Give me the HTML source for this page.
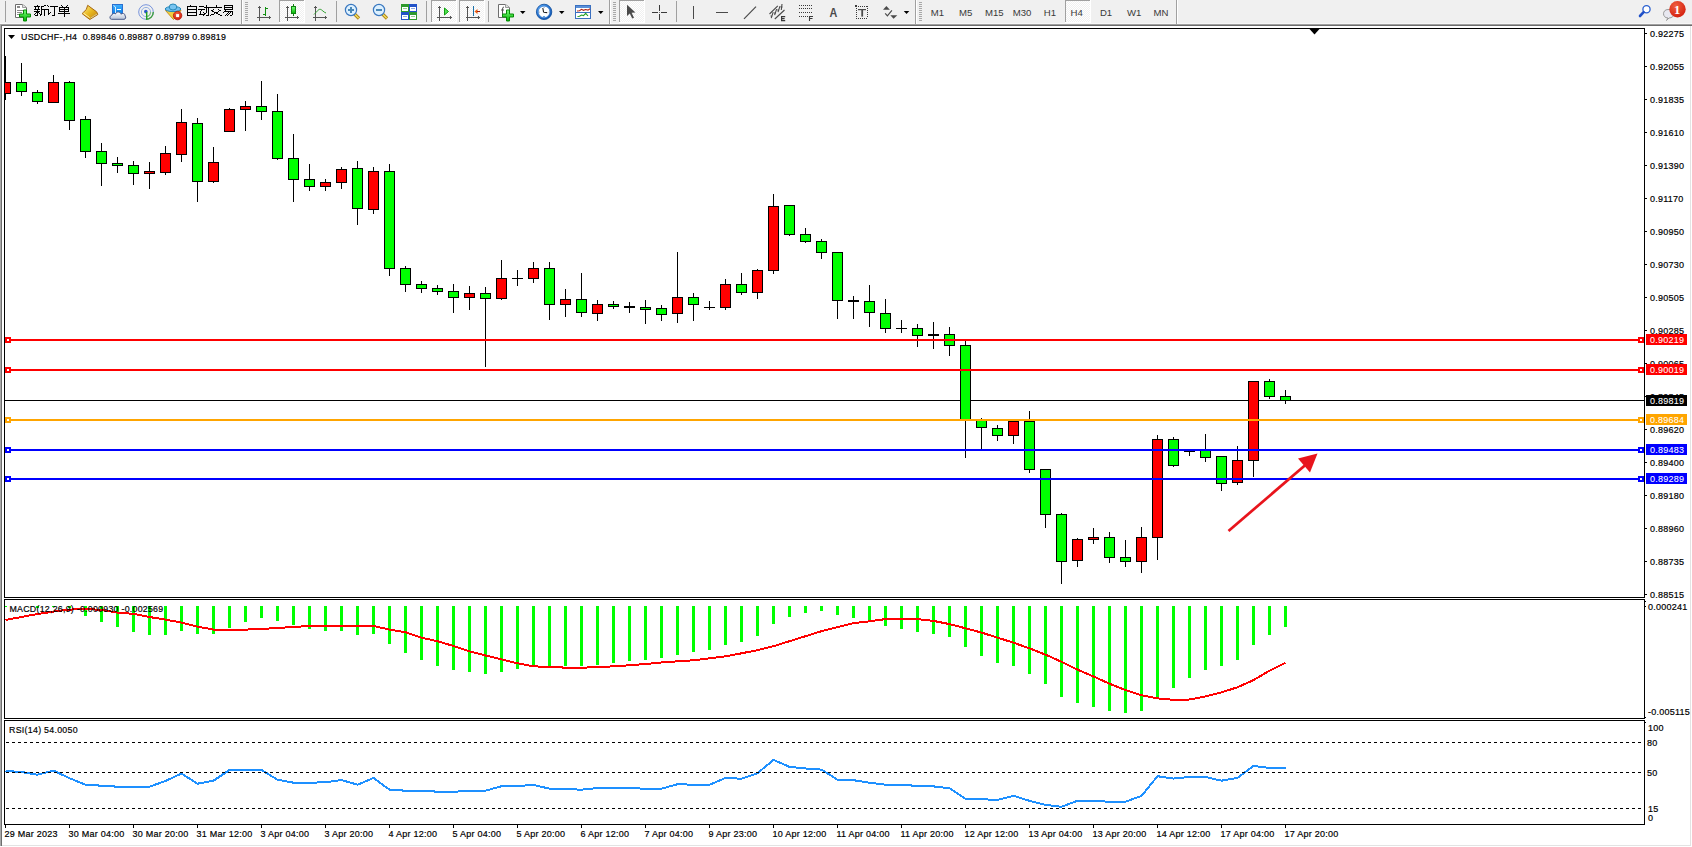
<!DOCTYPE html>
<html><head><meta charset="utf-8"><style>
html,body{margin:0;padding:0;width:1692px;height:847px;overflow:hidden;background:#fff;font-family:"Liberation Sans",sans-serif}
</style></head><body>
<svg width="1692" height="847" viewBox="0 0 1692 847" style="position:absolute;left:0;top:0;display:block">
<rect x="0" y="0" width="1692" height="847" fill="#FFFFFF"/>
<rect x="0" y="0" width="1692" height="24" fill="#F0F0F0"/>
<rect x="0" y="23" width="1692" height="1" fill="#F7F7F7"/>
<rect x="0" y="24" width="1692" height="1" fill="#A0A0A0"/>
<rect x="0" y="25" width="1692" height="1" fill="#6D6D6D"/>
<rect x="0" y="24" width="1" height="822" fill="#A8A8A8"/><rect x="1" y="25" width="1" height="821" fill="#6E6E6E"/>
<rect x="1690" y="26" width="1" height="820" fill="#E3E3E3"/>
<rect x="2" y="845" width="1689" height="1" fill="#E3E3E3"/>
<rect x="5" y="1" width="1" height="21" fill="#A0A0A0"/>
<rect x="336" y="1" width="1" height="21" fill="#A0A0A0"/>
<rect x="426" y="1" width="1" height="21" fill="#A0A0A0"/>
<rect x="488" y="1" width="1" height="21" fill="#A0A0A0"/>
<rect x="676" y="1" width="1" height="21" fill="#A0A0A0"/>
<rect x="241" y="0" width="1" height="24" fill="#A0A0A0"/><rect x="242" y="0" width="1" height="24" fill="#FFFFFF"/>
<rect x="609" y="0" width="1" height="24" fill="#A0A0A0"/><rect x="610" y="0" width="1" height="24" fill="#FFFFFF"/>
<rect x="915" y="0" width="1" height="24" fill="#A0A0A0"/><rect x="916" y="0" width="1" height="24" fill="#FFFFFF"/>
<rect x="1176" y="0" width="1" height="24" fill="#A0A0A0"/><rect x="1177" y="0" width="1" height="24" fill="#FFFFFF"/>
<rect x="245" y="2" width="3" height="1" fill="#A8A8A8"/>
<rect x="245" y="4" width="3" height="1" fill="#A8A8A8"/>
<rect x="245" y="6" width="3" height="1" fill="#A8A8A8"/>
<rect x="245" y="8" width="3" height="1" fill="#A8A8A8"/>
<rect x="245" y="10" width="3" height="1" fill="#A8A8A8"/>
<rect x="245" y="12" width="3" height="1" fill="#A8A8A8"/>
<rect x="245" y="14" width="3" height="1" fill="#A8A8A8"/>
<rect x="245" y="16" width="3" height="1" fill="#A8A8A8"/>
<rect x="245" y="18" width="3" height="1" fill="#A8A8A8"/>
<rect x="245" y="20" width="3" height="1" fill="#A8A8A8"/>
<rect x="613" y="2" width="3" height="1" fill="#A8A8A8"/>
<rect x="613" y="4" width="3" height="1" fill="#A8A8A8"/>
<rect x="613" y="6" width="3" height="1" fill="#A8A8A8"/>
<rect x="613" y="8" width="3" height="1" fill="#A8A8A8"/>
<rect x="613" y="10" width="3" height="1" fill="#A8A8A8"/>
<rect x="613" y="12" width="3" height="1" fill="#A8A8A8"/>
<rect x="613" y="14" width="3" height="1" fill="#A8A8A8"/>
<rect x="613" y="16" width="3" height="1" fill="#A8A8A8"/>
<rect x="613" y="18" width="3" height="1" fill="#A8A8A8"/>
<rect x="613" y="20" width="3" height="1" fill="#A8A8A8"/>
<rect x="919" y="2" width="3" height="1" fill="#A8A8A8"/>
<rect x="919" y="4" width="3" height="1" fill="#A8A8A8"/>
<rect x="919" y="6" width="3" height="1" fill="#A8A8A8"/>
<rect x="919" y="8" width="3" height="1" fill="#A8A8A8"/>
<rect x="919" y="10" width="3" height="1" fill="#A8A8A8"/>
<rect x="919" y="12" width="3" height="1" fill="#A8A8A8"/>
<rect x="919" y="14" width="3" height="1" fill="#A8A8A8"/>
<rect x="919" y="16" width="3" height="1" fill="#A8A8A8"/>
<rect x="919" y="18" width="3" height="1" fill="#A8A8A8"/>
<rect x="919" y="20" width="3" height="1" fill="#A8A8A8"/>
<rect x="279" y="0" width="26" height="23" fill="url(#chk)"/>
<rect x="279" y="0" width="26" height="1" fill="#A0A0A0"/>
<rect x="279" y="0" width="1" height="22" fill="#A0A0A0"/>
<rect x="304" y="0" width="1" height="23" fill="#FFFFFF"/>
<rect x="279" y="22" width="26" height="1" fill="#FFFFFF"/>
<rect x="431" y="0" width="26" height="23" fill="url(#chk)"/>
<rect x="431" y="0" width="26" height="1" fill="#A0A0A0"/>
<rect x="431" y="0" width="1" height="22" fill="#A0A0A0"/>
<rect x="456" y="0" width="1" height="23" fill="#FFFFFF"/>
<rect x="431" y="22" width="26" height="1" fill="#FFFFFF"/>
<rect x="459" y="0" width="26" height="23" fill="url(#chk)"/>
<rect x="459" y="0" width="26" height="1" fill="#A0A0A0"/>
<rect x="459" y="0" width="1" height="22" fill="#A0A0A0"/>
<rect x="484" y="0" width="1" height="23" fill="#FFFFFF"/>
<rect x="459" y="22" width="26" height="1" fill="#FFFFFF"/>
<rect x="619" y="0" width="26" height="23" fill="url(#chk)"/>
<rect x="619" y="0" width="26" height="1" fill="#A0A0A0"/>
<rect x="619" y="0" width="1" height="22" fill="#A0A0A0"/>
<rect x="644" y="0" width="1" height="23" fill="#FFFFFF"/>
<rect x="619" y="22" width="26" height="1" fill="#FFFFFF"/>
<rect x="1065" y="0" width="26" height="23" fill="url(#chk)"/>
<rect x="1065" y="0" width="26" height="1" fill="#A0A0A0"/>
<rect x="1065" y="0" width="1" height="22" fill="#A0A0A0"/>
<rect x="1090" y="0" width="1" height="23" fill="#FFFFFF"/>
<rect x="1065" y="22" width="26" height="1" fill="#FFFFFF"/>
<defs>
<pattern id="chk" x="0" y="0" width="2" height="2" patternUnits="userSpaceOnUse"><rect width="2" height="2" fill="#F0F0F0"/><rect width="1" height="1" fill="#FFFFFF"/><rect x="1" y="1" width="1" height="1" fill="#FFFFFF"/></pattern>
<linearGradient id="gplus" x1="0" y1="0" x2="0" y2="1"><stop offset="0" stop-color="#7CFF7C"/><stop offset="1" stop-color="#00B400"/></linearGradient>
<linearGradient id="gold" x1="0" y1="0" x2="1" y2="1"><stop offset="0" stop-color="#FFF090"/><stop offset="0.5" stop-color="#E8B820"/><stop offset="1" stop-color="#C08010"/></linearGradient>
<linearGradient id="cloud" x1="0" y1="0" x2="0" y2="1"><stop offset="0" stop-color="#FFFFFF"/><stop offset="1" stop-color="#B8C4D8"/></linearGradient>
<linearGradient id="blueb" x1="0" y1="0" x2="0" y2="1"><stop offset="0" stop-color="#40B0FF"/><stop offset="1" stop-color="#0A80E8"/></linearGradient>
<radialGradient id="redb" cx="0.4" cy="0.3" r="0.8"><stop offset="0" stop-color="#F06040"/><stop offset="1" stop-color="#D01808"/></radialGradient>
<radialGradient id="clockg" cx="0.35" cy="0.3" r="0.8"><stop offset="0" stop-color="#60B0FF"/><stop offset="1" stop-color="#0A50B0"/></radialGradient>
</defs>
<path d="M15.5,4.5 H22.5 L26.5,7.5 V17.5 H15.5 Z" fill="#FFFFFF" stroke="#6E6E6E" stroke-width="1"/>
<path d="M22.5,4.5 V7.5 H26.5" fill="#E0E0E0" stroke="#9A9A9A" stroke-width="1"/>
<rect x="17" y="6" width="3" height="2" fill="#8A8A8A"/><rect x="17" y="10" width="6" height="1" fill="#8A8A8A"/><rect x="17" y="12" width="5" height="1" fill="#8A8A8A"/><rect x="17" y="14" width="3" height="1" fill="#8A8A8A"/>
<path d="M23.5,10.0 h3 v4 h4 v3 h-4 v4 h-3 v-4 h-4 v-3 h4 Z" fill="url(#gplus)" stroke="#068A06" stroke-width="1"/>
<g shape-rendering="crispEdges">
<rect x="37" y="5" width="1" height="1" fill="#000"/>
<rect x="34" y="6" width="6" height="1" fill="#000"/>
<rect x="35" y="7" width="1" height="1" fill="#000"/>
<rect x="35" y="8" width="1" height="1" fill="#000"/>
<rect x="38" y="7" width="1" height="1" fill="#000"/>
<rect x="38" y="8" width="1" height="1" fill="#000"/>
<rect x="34" y="9" width="6" height="1" fill="#000"/>
<rect x="34" y="11" width="6" height="1" fill="#000"/>
<rect x="37" y="9" width="1" height="7" fill="#000"/>
<rect x="35" y="15" width="2" height="1" fill="#000"/>
<rect x="34" y="14" width="1" height="1" fill="#000"/>
<rect x="35" y="13" width="1" height="1" fill="#000"/>
<rect x="36" y="12" width="1" height="1" fill="#000"/>
<rect x="38" y="12" width="1" height="1" fill="#000"/>
<rect x="39" y="13" width="1" height="1" fill="#000"/>
<rect x="40" y="14" width="1" height="1" fill="#000"/>
<rect x="42" y="6" width="1" height="1" fill="#000"/>
<rect x="43" y="6" width="1" height="1" fill="#000"/>
<rect x="44" y="5" width="1" height="1" fill="#000"/>
<rect x="45" y="5" width="1" height="1" fill="#000"/>
<rect x="41" y="6" width="1" height="8" fill="#000"/>
<rect x="40" y="15" width="1" height="1" fill="#000"/>
<rect x="41" y="14" width="1" height="1" fill="#000"/>
<rect x="41" y="9" width="6" height="1" fill="#000"/>
<rect x="44" y="9" width="1" height="7" fill="#000"/>
<rect x="47" y="5" width="1" height="1" fill="#000"/>
<rect x="48" y="6" width="1" height="1" fill="#000"/>
<rect x="47" y="9" width="2" height="1" fill="#000"/>
<rect x="48" y="9" width="1" height="6" fill="#000"/>
<rect x="49" y="13" width="1" height="1" fill="#000"/>
<rect x="50" y="12" width="1" height="1" fill="#000"/>
<rect x="50" y="6" width="8" height="1" fill="#000"/>
<rect x="54" y="6" width="1" height="10" fill="#000"/>
<rect x="52" y="15" width="2" height="1" fill="#000"/>
<rect x="61" y="5" width="1" height="1" fill="#000"/>
<rect x="62" y="6" width="1" height="1" fill="#000"/>
<rect x="66" y="6" width="1" height="1" fill="#000"/>
<rect x="67" y="5" width="1" height="1" fill="#000"/>
<rect x="59" y="7" width="10" height="1" fill="#000"/>
<rect x="59" y="9" width="10" height="1" fill="#000"/>
<rect x="59" y="11" width="10" height="1" fill="#000"/>
<rect x="59" y="7" width="1" height="5" fill="#000"/>
<rect x="68" y="7" width="1" height="5" fill="#000"/>
<rect x="64" y="7" width="1" height="10" fill="#000"/>
<rect x="58" y="13" width="12" height="1" fill="#000"/>
<rect x="190" y="5" width="1" height="1" fill="#000"/>
<rect x="187" y="6" width="10" height="1" fill="#000"/>
<rect x="187" y="6" width="1" height="10" fill="#000"/>
<rect x="196" y="6" width="1" height="10" fill="#000"/>
<rect x="187" y="9" width="10" height="1" fill="#000"/>
<rect x="187" y="12" width="10" height="1" fill="#000"/>
<rect x="187" y="15" width="10" height="1" fill="#000"/>
<rect x="199" y="6" width="5" height="1" fill="#000"/>
<rect x="198" y="9" width="7" height="1" fill="#000"/>
<rect x="199" y="14" width="1" height="1" fill="#000"/>
<rect x="200" y="11" width="1" height="1" fill="#000"/>
<rect x="200" y="12" width="1" height="1" fill="#000"/>
<rect x="200" y="13" width="1" height="1" fill="#000"/>
<rect x="201" y="10" width="1" height="1" fill="#000"/>
<rect x="199" y="14" width="5" height="1" fill="#000"/>
<rect x="203" y="12" width="1" height="1" fill="#000"/>
<rect x="204" y="13" width="1" height="1" fill="#000"/>
<rect x="204" y="14" width="1" height="1" fill="#000"/>
<rect x="206" y="5" width="1" height="7" fill="#000"/>
<rect x="203" y="15" width="1" height="1" fill="#000"/>
<rect x="204" y="14" width="1" height="1" fill="#000"/>
<rect x="205" y="13" width="1" height="1" fill="#000"/>
<rect x="206" y="12" width="1" height="1" fill="#000"/>
<rect x="204" y="7" width="6" height="1" fill="#000"/>
<rect x="208" y="7" width="1" height="8" fill="#000"/>
<rect x="206" y="15" width="3" height="1" fill="#000"/>
<rect x="216" y="5" width="1" height="2" fill="#000"/>
<rect x="210" y="7" width="12" height="1" fill="#000"/>
<rect x="211" y="10" width="1" height="1" fill="#000"/>
<rect x="212" y="10" width="1" height="1" fill="#000"/>
<rect x="213" y="9" width="1" height="1" fill="#000"/>
<rect x="218" y="9" width="1" height="1" fill="#000"/>
<rect x="219" y="10" width="1" height="1" fill="#000"/>
<rect x="220" y="10" width="1" height="1" fill="#000"/>
<rect x="212" y="11" width="1" height="1" fill="#000"/>
<rect x="213" y="11" width="1" height="1" fill="#000"/>
<rect x="214" y="12" width="1" height="1" fill="#000"/>
<rect x="215" y="12" width="1" height="1" fill="#000"/>
<rect x="216" y="13" width="1" height="1" fill="#000"/>
<rect x="217" y="13" width="1" height="1" fill="#000"/>
<rect x="218" y="14" width="1" height="1" fill="#000"/>
<rect x="219" y="14" width="1" height="1" fill="#000"/>
<rect x="220" y="15" width="1" height="1" fill="#000"/>
<rect x="221" y="15" width="1" height="1" fill="#000"/>
<rect x="210" y="15" width="1" height="1" fill="#000"/>
<rect x="211" y="14" width="1" height="1" fill="#000"/>
<rect x="212" y="14" width="1" height="1" fill="#000"/>
<rect x="213" y="14" width="1" height="1" fill="#000"/>
<rect x="214" y="13" width="1" height="1" fill="#000"/>
<rect x="215" y="12" width="1" height="1" fill="#000"/>
<rect x="216" y="12" width="1" height="1" fill="#000"/>
<rect x="217" y="12" width="1" height="1" fill="#000"/>
<rect x="218" y="11" width="1" height="1" fill="#000"/>
<rect x="224" y="5" width="9" height="1" fill="#000"/>
<rect x="224" y="7" width="9" height="1" fill="#000"/>
<rect x="224" y="9" width="9" height="1" fill="#000"/>
<rect x="224" y="5" width="1" height="5" fill="#000"/>
<rect x="232" y="5" width="1" height="5" fill="#000"/>
<rect x="223" y="12" width="1" height="1" fill="#000"/>
<rect x="224" y="11" width="1" height="1" fill="#000"/>
<rect x="225" y="10" width="1" height="1" fill="#000"/>
<rect x="224" y="11" width="9" height="1" fill="#000"/>
<rect x="232" y="11" width="1" height="4" fill="#000"/>
<rect x="230" y="15" width="2" height="1" fill="#000"/>
<rect x="225" y="15" width="1" height="1" fill="#000"/>
<rect x="226" y="14" width="1" height="1" fill="#000"/>
<rect x="227" y="13" width="1" height="1" fill="#000"/>
<rect x="228" y="12" width="1" height="1" fill="#000"/>
<rect x="227" y="15" width="1" height="1" fill="#000"/>
<rect x="228" y="14" width="1" height="1" fill="#000"/>
<rect x="229" y="13" width="1" height="1" fill="#000"/>
<rect x="230" y="12" width="1" height="1" fill="#000"/>
</g>
<polygon points="87.7,5.3 96.6,11.8 97.8,14.5 89.8,19.5 82.1,13.6 86.3,9.5" fill="url(#gold)" stroke="#A86810" stroke-width="1" stroke-linejoin="round"/>
<path d="M83.5,13.2 L89.6,17.6" stroke="#FFF2B0" stroke-width="1"/><path d="M90.5,18.2 L97,14" stroke="#D8C890" stroke-width="1"/>
<rect x="112.5" y="4.5" width="10" height="9" fill="url(#blueb)" stroke="#2A70D0" stroke-width="1"/>
<path d="M113.5,5.5 L115.5,7 V13" stroke="#FFFFFF" stroke-width="0.8" fill="none"/><rect x="117" y="9" width="4" height="1" fill="#FFFFFF"/>
<path d="M111.5,19.3 C109.3,19.3 109.5,15.6 111.8,15.2 C112,13.4 114.5,12.9 115.5,13.9 C116.3,11.4 120.6,11.3 121,14.3 C122,12.9 125.3,13.1 125.1,16 C126.4,17 125.6,19.3 124,19.3 Z" fill="url(#cloud)" stroke="#4A5A88" stroke-width="1"/>
<circle cx="146" cy="12" r="7.3" fill="none" stroke="#6A8AD8" stroke-width="1" opacity="0.9"/>
<circle cx="146" cy="12" r="4.6" fill="none" stroke="#8AA8E0" stroke-width="1" opacity="0.9"/>
<path d="M146,19.3 A7.3,7.3 0 0 0 153.3,12" stroke="#40A040" stroke-width="1.4" fill="none"/><path d="M146,16.6 A4.6,4.6 0 0 0 150.6,12" stroke="#80C080" stroke-width="1.2" fill="none"/>
<circle cx="145.8" cy="11.6" r="1.8" fill="#2A5AC8"/><rect x="146" y="12" width="1.4" height="7.5" fill="#20A020"/>
<polygon points="165.5,10.5 181,10.5 173.5,19.5" fill="#F0D040" stroke="#C89020" stroke-width="1" stroke-linejoin="round"/>
<ellipse cx="173" cy="9" rx="7.8" ry="2.6" fill="#70C0F0" stroke="#2888B8" stroke-width="1"/><ellipse cx="173" cy="7" rx="3.8" ry="3" fill="#78C4F0" stroke="#2888B8" stroke-width="1"/>
<circle cx="177.6" cy="15.6" r="4.2" fill="url(#redb)" stroke="#B01808" stroke-width="0.8"/><rect x="176.1" y="14.1" width="3" height="3" fill="#FFFFFF"/>
<rect x="259" y="6" width="1" height="15" fill="#555555"/><rect x="258" y="7" width="3" height="1" fill="#555555"/>
<rect x="257" y="17" width="14" height="1" fill="#555555"/><rect x="269" y="16" width="1" height="3" fill="#555555"/>
<rect x="265" y="7" width="1" height="9" fill="#109010"/><rect x="266" y="8" width="2" height="1" fill="#109010"/><rect x="263" y="14" width="2" height="1" fill="#109010"/>
<rect x="287" y="6" width="1" height="15" fill="#555555"/><rect x="286" y="7" width="3" height="1" fill="#555555"/>
<rect x="285" y="17" width="14" height="1" fill="#555555"/><rect x="297" y="16" width="1" height="3" fill="#555555"/>
<rect x="293" y="4" width="1" height="12" fill="#108010"/><rect x="291.5" y="6.5" width="4" height="7" fill="url(#gplus)" stroke="#108010" stroke-width="1"/>
<rect x="315" y="6" width="1" height="15" fill="#555555"/><rect x="314" y="7" width="3" height="1" fill="#555555"/>
<rect x="313" y="17" width="14" height="1" fill="#555555"/><rect x="325" y="16" width="1" height="3" fill="#555555"/>
<path d="M314,14.5 C316.5,12 318.5,9 320.3,9.3 C322,9.6 323.5,12.2 326,13" stroke="#30A030" stroke-width="1" fill="none"/>
<path d="M354.5,14 L359,18.5" stroke="#B08010" stroke-width="3.2"/><path d="M354.8,14.3 L358.7,18.2" stroke="#F0E060" stroke-width="1.4"/>
<circle cx="351" cy="10" r="5.6" fill="#DCF0FF" stroke="#3A78C0" stroke-width="1.2"/>
<rect x="348" y="9" width="6" height="2" fill="#4A88B8"/>
<rect x="350" y="7" width="2" height="6" fill="#4A88B8"/>
<path d="M382.5,14 L387,18.5" stroke="#B08010" stroke-width="3.2"/><path d="M382.8,14.3 L386.7,18.2" stroke="#F0E060" stroke-width="1.4"/>
<circle cx="379" cy="10" r="5.6" fill="#DCF0FF" stroke="#3A78C0" stroke-width="1.2"/>
<rect x="376" y="9" width="6" height="2" fill="#4A88B8"/>
<rect x="401" y="4" width="8" height="8" fill="#2E9A2E"/><rect x="402" y="7" width="6" height="4" fill="#FFFFFF"/><rect x="403" y="8" width="4" height="1" fill="#90D090"/>
<rect x="409" y="4" width="8" height="8" fill="#2252C8"/><rect x="410" y="7" width="6" height="4" fill="#FFFFFF"/><rect x="411" y="8" width="4" height="1" fill="#90A8E0"/>
<rect x="401" y="12" width="8" height="8" fill="#2252C8"/><rect x="402" y="15" width="6" height="4" fill="#FFFFFF"/><rect x="403" y="16" width="4" height="1" fill="#90A8E0"/>
<rect x="409" y="12" width="8" height="8" fill="#2E9A2E"/><rect x="410" y="15" width="6" height="4" fill="#FFFFFF"/><rect x="411" y="16" width="4" height="1" fill="#90D090"/>
<rect x="439" y="6" width="1" height="15" fill="#555555"/><rect x="438" y="7" width="3" height="1" fill="#555555"/>
<rect x="437" y="17" width="15" height="1" fill="#555555"/><rect x="450" y="16" width="1" height="3" fill="#555555"/>
<polygon points="444.5,8 444.5,15 448.5,11.5" fill="#50E050" stroke="#10A010" stroke-width="1"/>
<rect x="467" y="6" width="1" height="15" fill="#555555"/><rect x="466" y="7" width="3" height="1" fill="#555555"/>
<rect x="466" y="17" width="14" height="1" fill="#555555"/><rect x="478" y="16" width="1" height="3" fill="#555555"/>
<rect x="473" y="6" width="1" height="10" fill="#1A70A8"/><polygon points="474.5,11.5 477.5,9 477.5,14" fill="#F06010"/><rect x="477" y="11" width="3" height="1" fill="#A02010"/>
<path d="M498.5,4.5 H505.5 L509.5,7.5 V17.5 H498.5 Z" fill="#FFFFFF" stroke="#6E6E6E" stroke-width="1"/>
<path d="M505.5,4.5 V7.5 H509.5" fill="#E0E0E0" stroke="#9A9A9A" stroke-width="1"/>
<path d="M504,7 q-1.5,0 -1.5,2 v7 M501,10 h3" stroke="#555" stroke-width="1" fill="none"/>
<path d="M506.5,10.0 h3 v4 h4 v3 h-4 v4 h-3 v-4 h-4 v-3 h4 Z" fill="url(#gplus)" stroke="#068A06" stroke-width="1"/>
<polygon points="520,11 525.5,11 522.75,14" fill="#000"/>
<polygon points="559,11 564.5,11 561.75,14" fill="#000"/>
<polygon points="598,11 603.5,11 600.75,14" fill="#000"/>
<polygon points="903.8,11 909.3,11 906.55,14" fill="#000"/>
<circle cx="544.1" cy="11.9" r="7.7" fill="url(#clockg)" stroke="#0A4A9A" stroke-width="0.8"/><circle cx="544.1" cy="11.9" r="5.7" fill="#FFFFFF" stroke="#3070C0" stroke-width="0.5"/>
<path d="M543.6,12.2 L542.8,8 M543.6,12.2 L547.2,12.6" stroke="#222" stroke-width="1.1" fill="none"/><rect x="543" y="16" width="2" height="1" fill="#60A0E0"/><rect x="538.8" y="11.6" width="1" height="1" fill="#8AA0C0"/><rect x="548.6" y="11.6" width="1" height="1" fill="#8AA0C0"/><rect x="543.6" y="7" width="1" height="1" fill="#8AA0C0"/>
<rect x="575.5" y="5.5" width="15" height="13" fill="#FFFFFF" stroke="#3A70C0" stroke-width="1"/><rect x="576" y="6" width="14" height="2" fill="#5A90D8"/><rect x="576" y="12" width="14" height="1" fill="#3A70C0"/>
<path d="M577,11 l2.5,-0.3 l2,-1.4 l2,1 l2,-0.8 l2.5,0.6 l2,-1.4" stroke="#B02010" stroke-width="1.1" fill="none"/><path d="M577.5,16.5 l2,-0.3 l2,-1.2 l2,0.6 l2.2,-2.2 l2.3,2.6" stroke="#20A020" stroke-width="1.1" fill="none"/>
<polygon points="627,4.7 627,16 629.8,13.5 632.2,18.6 634,17.8 631.6,12.7 635.4,12.5" fill="#4A4A4A"/>
<rect x="659" y="5" width="1" height="6" fill="#3A3A3A"/><rect x="659" y="14" width="1" height="6" fill="#3A3A3A"/><rect x="652" y="12" width="6" height="1" fill="#3A3A3A"/><rect x="661" y="12" width="6" height="1" fill="#3A3A3A"/><rect x="659" y="12" width="1" height="1" fill="#7A7A7A"/>
<rect x="693" y="6" width="1" height="13" fill="#4A4A4A"/><rect x="716" y="12" width="12" height="1" fill="#4A4A4A"/><path d="M744,18.8 L756,6.6" stroke="#4A4A4A" stroke-width="1.2"/>
<path d="M769.5,14 L777.8,5.8 M774.8,19 L784.5,10" stroke="#4A4A4A" stroke-width="1.1" fill="none"/>
<path d="M771.2,18.2 L773.2,12.2 M774.6,15.2 L776.6,9.2 M778,12.2 L780,6.2 M781.3,10 L782,4 M770.5,16 h2 M774,13 h2 M777.3,10 h2 M780.6,7 h2" stroke="#4A4A4A" stroke-width="1.1" fill="none"/>
<path d="M785.2,16.6 h-3.6 v4 h3.6 M781.6,18.6 h3" stroke="#3A3A3A" stroke-width="1.2" fill="none"/>
<rect x="799" y="5" width="1" height="1" fill="#3A3A3A"/>
<rect x="801" y="5" width="1" height="1" fill="#3A3A3A"/>
<rect x="803" y="5" width="1" height="1" fill="#3A3A3A"/>
<rect x="805" y="5" width="1" height="1" fill="#3A3A3A"/>
<rect x="807" y="5" width="1" height="1" fill="#3A3A3A"/>
<rect x="809" y="5" width="1" height="1" fill="#3A3A3A"/>
<rect x="811" y="5" width="1" height="1" fill="#3A3A3A"/>
<rect x="799" y="8" width="1" height="1" fill="#3A3A3A"/>
<rect x="801" y="8" width="1" height="1" fill="#3A3A3A"/>
<rect x="803" y="8" width="1" height="1" fill="#3A3A3A"/>
<rect x="805" y="8" width="1" height="1" fill="#3A3A3A"/>
<rect x="807" y="8" width="1" height="1" fill="#3A3A3A"/>
<rect x="809" y="8" width="1" height="1" fill="#3A3A3A"/>
<rect x="811" y="8" width="1" height="1" fill="#3A3A3A"/>
<rect x="799" y="12" width="1" height="1" fill="#3A3A3A"/>
<rect x="801" y="12" width="1" height="1" fill="#3A3A3A"/>
<rect x="803" y="12" width="1" height="1" fill="#3A3A3A"/>
<rect x="805" y="12" width="1" height="1" fill="#3A3A3A"/>
<rect x="807" y="12" width="1" height="1" fill="#3A3A3A"/>
<rect x="809" y="12" width="1" height="1" fill="#3A3A3A"/>
<rect x="811" y="12" width="1" height="1" fill="#3A3A3A"/>
<rect x="799" y="16" width="1" height="1" fill="#3A3A3A"/>
<rect x="801" y="16" width="1" height="1" fill="#3A3A3A"/>
<rect x="803" y="16" width="1" height="1" fill="#3A3A3A"/>
<rect x="805" y="16" width="1" height="1" fill="#3A3A3A"/>
<rect x="807" y="16" width="1" height="1" fill="#3A3A3A"/>
<path d="M809.5,21 v-4.5 h3.5 M809.5,18.5 h3" stroke="#3A3A3A" stroke-width="1.1" fill="none"/>
<text transform="translate(829.6,17) scale(0.9,1)" font-family="Liberation Sans" font-size="12" font-weight="bold" fill="#4A4A4A">A</text>
<rect x="856" y="6" width="1" height="1" fill="#3A3A3A"/><rect x="856" y="18" width="1" height="1" fill="#3A3A3A"/>
<rect x="858" y="6" width="1" height="1" fill="#3A3A3A"/><rect x="858" y="18" width="1" height="1" fill="#3A3A3A"/>
<rect x="860" y="6" width="1" height="1" fill="#3A3A3A"/><rect x="860" y="18" width="1" height="1" fill="#3A3A3A"/>
<rect x="862" y="6" width="1" height="1" fill="#3A3A3A"/><rect x="862" y="18" width="1" height="1" fill="#3A3A3A"/>
<rect x="864" y="6" width="1" height="1" fill="#3A3A3A"/><rect x="864" y="18" width="1" height="1" fill="#3A3A3A"/>
<rect x="866" y="6" width="1" height="1" fill="#3A3A3A"/><rect x="866" y="18" width="1" height="1" fill="#3A3A3A"/>
<rect x="856" y="6" width="1" height="1" fill="#3A3A3A"/><rect x="867" y="6" width="1" height="1" fill="#3A3A3A"/>
<rect x="856" y="8" width="1" height="1" fill="#3A3A3A"/><rect x="867" y="8" width="1" height="1" fill="#3A3A3A"/>
<rect x="856" y="10" width="1" height="1" fill="#3A3A3A"/><rect x="867" y="10" width="1" height="1" fill="#3A3A3A"/>
<rect x="856" y="12" width="1" height="1" fill="#3A3A3A"/><rect x="867" y="12" width="1" height="1" fill="#3A3A3A"/>
<rect x="856" y="14" width="1" height="1" fill="#3A3A3A"/><rect x="867" y="14" width="1" height="1" fill="#3A3A3A"/>
<rect x="856" y="16" width="1" height="1" fill="#3A3A3A"/><rect x="867" y="16" width="1" height="1" fill="#3A3A3A"/>
<rect x="855" y="5" width="2" height="2" fill="#3A3A3A"/><rect x="858" y="9" width="8" height="1.2" fill="#4A4A4A"/><rect x="861.3" y="9" width="1.8" height="7.6" fill="#4A4A4A"/>
<polygon points="883,9.7 889.9,9.7 886.4,6" fill="#4A4A4A"/><path d="M885.2,13.3 L887.4,15.8 L891.9,10.4" stroke="#4A4A4A" stroke-width="1.2" fill="none"/><polygon points="890.3,15.2 897.3,15.2 893.6,18.8" fill="#4A4A4A"/>
<text x="930.8" y="15.6" font-family="Liberation Sans" font-size="9.6" fill="#3A3A3A">M1</text>
<text x="958.9" y="15.6" font-family="Liberation Sans" font-size="9.6" fill="#3A3A3A">M5</text>
<text x="984.9" y="15.6" font-family="Liberation Sans" font-size="9.6" fill="#3A3A3A">M15</text>
<text x="1012.7" y="15.6" font-family="Liberation Sans" font-size="9.6" fill="#3A3A3A">M30</text>
<text x="1043.8" y="15.6" font-family="Liberation Sans" font-size="9.6" fill="#3A3A3A">H1</text>
<text x="1070.6" y="15.6" font-family="Liberation Sans" font-size="9.6" fill="#3A3A3A">H4</text>
<text x="1099.9" y="15.6" font-family="Liberation Sans" font-size="9.6" fill="#3A3A3A">D1</text>
<text x="1127" y="15.6" font-family="Liberation Sans" font-size="9.6" fill="#3A3A3A">W1</text>
<text x="1153.6" y="15.6" font-family="Liberation Sans" font-size="9.6" fill="#3A3A3A">MN</text>
<circle cx="1646.5" cy="9.3" r="3.6" fill="#FFFFFF" stroke="#2A60D0" stroke-width="1.3"/><path d="M1643.6,12.2 L1640,16" stroke="#2050C8" stroke-width="2.6" stroke-linecap="round"/>
<path d="M1668,18 C1662,18 1662,9.5 1668,9.5 C1672,9.5 1674,12 1674,14 C1674,16 1672,18 1669,18 L1666.5,20.5 Z" fill="#E8E8F0" stroke="#9A9A9A" stroke-width="1"/>
<circle cx="1677.5" cy="9.3" r="8.2" fill="url(#redb)"/><text x="1677" y="14.2" font-family="Liberation Serif" font-size="12.5" font-weight="bold" fill="#FFFFFF" text-anchor="middle">1</text>
<g shape-rendering="crispEdges">
<clipPath id="cmain"><rect x="5" y="29" width="1639" height="568"/></clipPath>
<clipPath id="cmacd"><rect x="5" y="600" width="1639" height="118"/></clipPath>
<clipPath id="crsi"><rect x="5" y="721" width="1639" height="103"/></clipPath>
<g clip-path="url(#cmain)"><rect x="5" y="400" width="1639" height="1" fill="#000"/><rect x="5" y="56" width="1" height="44" fill="#000"/><rect x="0" y="82" width="11" height="12" fill="#000"/><rect x="1" y="83" width="9" height="10" fill="#FF0000"/><rect x="21" y="63" width="1" height="33" fill="#000"/><rect x="16" y="82" width="11" height="10" fill="#000"/><rect x="17" y="83" width="9" height="8" fill="#00FF00"/><rect x="37" y="90" width="1" height="14" fill="#000"/><rect x="32" y="92" width="11" height="10" fill="#000"/><rect x="33" y="93" width="9" height="8" fill="#00FF00"/><rect x="53" y="75" width="1" height="28" fill="#000"/><rect x="48" y="82" width="11" height="21" fill="#000"/><rect x="49" y="83" width="9" height="19" fill="#FF0000"/><rect x="69" y="81" width="1" height="49" fill="#000"/><rect x="64" y="82" width="11" height="39" fill="#000"/><rect x="65" y="83" width="9" height="37" fill="#00FF00"/><rect x="85" y="116" width="1" height="42" fill="#000"/><rect x="80" y="119" width="11" height="33" fill="#000"/><rect x="81" y="120" width="9" height="31" fill="#00FF00"/><rect x="101" y="143" width="1" height="43" fill="#000"/><rect x="96" y="151" width="11" height="13" fill="#000"/><rect x="97" y="152" width="9" height="11" fill="#00FF00"/><rect x="117" y="157" width="1" height="16" fill="#000"/><rect x="112" y="163" width="11" height="3" fill="#000"/><rect x="113" y="164" width="9" height="1" fill="#00FF00"/><rect x="133" y="161" width="1" height="24" fill="#000"/><rect x="128" y="165" width="11" height="9" fill="#000"/><rect x="129" y="166" width="9" height="7" fill="#00FF00"/><rect x="149" y="162" width="1" height="27" fill="#000"/><rect x="144" y="171" width="11" height="3" fill="#000"/><rect x="145" y="172" width="9" height="1" fill="#FF0000"/><rect x="165" y="146" width="1" height="29" fill="#000"/><rect x="160" y="153" width="11" height="20" fill="#000"/><rect x="161" y="154" width="9" height="18" fill="#FF0000"/><rect x="181" y="109" width="1" height="53" fill="#000"/><rect x="176" y="122" width="11" height="33" fill="#000"/><rect x="177" y="123" width="9" height="31" fill="#FF0000"/><rect x="197" y="118" width="1" height="84" fill="#000"/><rect x="192" y="123" width="11" height="59" fill="#000"/><rect x="193" y="124" width="9" height="57" fill="#00FF00"/><rect x="213" y="147" width="1" height="36" fill="#000"/><rect x="208" y="162" width="11" height="20" fill="#000"/><rect x="209" y="163" width="9" height="18" fill="#FF0000"/><rect x="229" y="108" width="1" height="24" fill="#000"/><rect x="224" y="109" width="11" height="23" fill="#000"/><rect x="225" y="110" width="9" height="21" fill="#FF0000"/><rect x="245" y="101" width="1" height="30" fill="#000"/><rect x="240" y="106" width="11" height="4" fill="#000"/><rect x="241" y="107" width="9" height="2" fill="#FF0000"/><rect x="261" y="81" width="1" height="39" fill="#000"/><rect x="256" y="106" width="11" height="6" fill="#000"/><rect x="257" y="107" width="9" height="4" fill="#00FF00"/><rect x="277" y="94" width="1" height="66" fill="#000"/><rect x="272" y="111" width="11" height="48" fill="#000"/><rect x="273" y="112" width="9" height="46" fill="#00FF00"/><rect x="293" y="134" width="1" height="68" fill="#000"/><rect x="288" y="158" width="11" height="22" fill="#000"/><rect x="289" y="159" width="9" height="20" fill="#00FF00"/><rect x="309" y="164" width="1" height="27" fill="#000"/><rect x="304" y="179" width="11" height="8" fill="#000"/><rect x="305" y="180" width="9" height="6" fill="#00FF00"/><rect x="325" y="179" width="1" height="12" fill="#000"/><rect x="320" y="182" width="11" height="5" fill="#000"/><rect x="321" y="183" width="9" height="3" fill="#FF0000"/><rect x="341" y="167" width="1" height="22" fill="#000"/><rect x="336" y="169" width="11" height="14" fill="#000"/><rect x="337" y="170" width="9" height="12" fill="#FF0000"/><rect x="357" y="161" width="1" height="64" fill="#000"/><rect x="352" y="168" width="11" height="41" fill="#000"/><rect x="353" y="169" width="9" height="39" fill="#00FF00"/><rect x="373" y="167" width="1" height="47" fill="#000"/><rect x="368" y="171" width="11" height="39" fill="#000"/><rect x="369" y="172" width="9" height="37" fill="#FF0000"/><rect x="389" y="164" width="1" height="112" fill="#000"/><rect x="384" y="171" width="11" height="98" fill="#000"/><rect x="385" y="172" width="9" height="96" fill="#00FF00"/><rect x="405" y="266" width="1" height="26" fill="#000"/><rect x="400" y="268" width="11" height="17" fill="#000"/><rect x="401" y="269" width="9" height="15" fill="#00FF00"/><rect x="421" y="281" width="1" height="12" fill="#000"/><rect x="416" y="284" width="11" height="5" fill="#000"/><rect x="417" y="285" width="9" height="3" fill="#00FF00"/><rect x="437" y="285" width="1" height="10" fill="#000"/><rect x="432" y="288" width="11" height="4" fill="#000"/><rect x="433" y="289" width="9" height="2" fill="#00FF00"/><rect x="453" y="284" width="1" height="29" fill="#000"/><rect x="448" y="291" width="11" height="7" fill="#000"/><rect x="449" y="292" width="9" height="5" fill="#00FF00"/><rect x="469" y="286" width="1" height="24" fill="#000"/><rect x="464" y="293" width="11" height="5" fill="#000"/><rect x="465" y="294" width="9" height="3" fill="#FF0000"/><rect x="485" y="287" width="1" height="80" fill="#000"/><rect x="480" y="293" width="11" height="6" fill="#000"/><rect x="481" y="294" width="9" height="4" fill="#00FF00"/><rect x="501" y="260" width="1" height="40" fill="#000"/><rect x="496" y="278" width="11" height="21" fill="#000"/><rect x="497" y="279" width="9" height="19" fill="#FF0000"/><rect x="517" y="270" width="1" height="16" fill="#000"/><rect x="512" y="278" width="11" height="1" fill="#000"/><rect x="533" y="262" width="1" height="21" fill="#000"/><rect x="528" y="268" width="11" height="11" fill="#000"/><rect x="529" y="269" width="9" height="9" fill="#FF0000"/><rect x="549" y="262" width="1" height="58" fill="#000"/><rect x="544" y="268" width="11" height="37" fill="#000"/><rect x="545" y="269" width="9" height="35" fill="#00FF00"/><rect x="565" y="289" width="1" height="28" fill="#000"/><rect x="560" y="299" width="11" height="6" fill="#000"/><rect x="561" y="300" width="9" height="4" fill="#FF0000"/><rect x="581" y="273" width="1" height="44" fill="#000"/><rect x="576" y="299" width="11" height="14" fill="#000"/><rect x="577" y="300" width="9" height="12" fill="#00FF00"/><rect x="597" y="300" width="1" height="21" fill="#000"/><rect x="592" y="304" width="11" height="10" fill="#000"/><rect x="593" y="305" width="9" height="8" fill="#FF0000"/><rect x="613" y="301" width="1" height="8" fill="#000"/><rect x="608" y="304" width="11" height="3" fill="#000"/><rect x="609" y="305" width="9" height="1" fill="#00FF00"/><rect x="629" y="302" width="1" height="11" fill="#000"/><rect x="624" y="306" width="11" height="2" fill="#000"/><rect x="645" y="300" width="1" height="24" fill="#000"/><rect x="640" y="307" width="11" height="3" fill="#000"/><rect x="641" y="308" width="9" height="1" fill="#00FF00"/><rect x="661" y="305" width="1" height="16" fill="#000"/><rect x="656" y="308" width="11" height="7" fill="#000"/><rect x="657" y="309" width="9" height="5" fill="#00FF00"/><rect x="677" y="252" width="1" height="71" fill="#000"/><rect x="672" y="297" width="11" height="17" fill="#000"/><rect x="673" y="298" width="9" height="15" fill="#FF0000"/><rect x="693" y="293" width="1" height="28" fill="#000"/><rect x="688" y="297" width="11" height="8" fill="#000"/><rect x="689" y="298" width="9" height="6" fill="#00FF00"/><rect x="709" y="301" width="1" height="9" fill="#000"/><rect x="704" y="307" width="11" height="1" fill="#000"/><rect x="725" y="279" width="1" height="31" fill="#000"/><rect x="720" y="284" width="11" height="24" fill="#000"/><rect x="721" y="285" width="9" height="22" fill="#FF0000"/><rect x="741" y="273" width="1" height="22" fill="#000"/><rect x="736" y="284" width="11" height="9" fill="#000"/><rect x="737" y="285" width="9" height="7" fill="#00FF00"/><rect x="757" y="269" width="1" height="30" fill="#000"/><rect x="752" y="270" width="11" height="23" fill="#000"/><rect x="753" y="271" width="9" height="21" fill="#FF0000"/><rect x="773" y="194" width="1" height="80" fill="#000"/><rect x="768" y="206" width="11" height="65" fill="#000"/><rect x="769" y="207" width="9" height="63" fill="#FF0000"/><rect x="789" y="205" width="1" height="31" fill="#000"/><rect x="784" y="205" width="11" height="30" fill="#000"/><rect x="785" y="206" width="9" height="28" fill="#00FF00"/><rect x="805" y="228" width="1" height="15" fill="#000"/><rect x="800" y="234" width="11" height="8" fill="#000"/><rect x="801" y="235" width="9" height="6" fill="#00FF00"/><rect x="821" y="239" width="1" height="20" fill="#000"/><rect x="816" y="241" width="11" height="12" fill="#000"/><rect x="817" y="242" width="9" height="10" fill="#00FF00"/><rect x="837" y="252" width="1" height="67" fill="#000"/><rect x="832" y="252" width="11" height="49" fill="#000"/><rect x="833" y="253" width="9" height="47" fill="#00FF00"/><rect x="853" y="296" width="1" height="23" fill="#000"/><rect x="848" y="300" width="11" height="2" fill="#000"/><rect x="869" y="285" width="1" height="42" fill="#000"/><rect x="864" y="301" width="11" height="12" fill="#000"/><rect x="865" y="302" width="9" height="10" fill="#00FF00"/><rect x="885" y="299" width="1" height="34" fill="#000"/><rect x="880" y="313" width="11" height="16" fill="#000"/><rect x="881" y="314" width="9" height="14" fill="#00FF00"/><rect x="901" y="320" width="1" height="13" fill="#000"/><rect x="896" y="328" width="11" height="1" fill="#000"/><rect x="917" y="324" width="1" height="23" fill="#000"/><rect x="912" y="328" width="11" height="8" fill="#000"/><rect x="913" y="329" width="9" height="6" fill="#00FF00"/><rect x="933" y="322" width="1" height="27" fill="#000"/><rect x="928" y="334" width="11" height="2" fill="#000"/><rect x="949" y="327" width="1" height="29" fill="#000"/><rect x="944" y="334" width="11" height="12" fill="#000"/><rect x="945" y="335" width="9" height="10" fill="#00FF00"/><rect x="965" y="340" width="1" height="118" fill="#000"/><rect x="960" y="345" width="11" height="76" fill="#000"/><rect x="961" y="346" width="9" height="74" fill="#00FF00"/><rect x="981" y="418" width="1" height="31" fill="#000"/><rect x="976" y="419" width="11" height="9" fill="#000"/><rect x="977" y="420" width="9" height="7" fill="#00FF00"/><rect x="997" y="425" width="1" height="16" fill="#000"/><rect x="992" y="428" width="11" height="8" fill="#000"/><rect x="993" y="429" width="9" height="6" fill="#00FF00"/><rect x="1013" y="419" width="1" height="25" fill="#000"/><rect x="1008" y="421" width="11" height="15" fill="#000"/><rect x="1009" y="422" width="9" height="13" fill="#FF0000"/><rect x="1029" y="411" width="1" height="62" fill="#000"/><rect x="1024" y="421" width="11" height="49" fill="#000"/><rect x="1025" y="422" width="9" height="47" fill="#00FF00"/><rect x="1045" y="469" width="1" height="59" fill="#000"/><rect x="1040" y="469" width="11" height="46" fill="#000"/><rect x="1041" y="470" width="9" height="44" fill="#00FF00"/><rect x="1061" y="513" width="1" height="71" fill="#000"/><rect x="1056" y="514" width="11" height="48" fill="#000"/><rect x="1057" y="515" width="9" height="46" fill="#00FF00"/><rect x="1077" y="538" width="1" height="29" fill="#000"/><rect x="1072" y="539" width="11" height="22" fill="#000"/><rect x="1073" y="540" width="9" height="20" fill="#FF0000"/><rect x="1093" y="528" width="1" height="16" fill="#000"/><rect x="1088" y="537" width="11" height="3" fill="#000"/><rect x="1089" y="538" width="9" height="1" fill="#FF0000"/><rect x="1109" y="532" width="1" height="31" fill="#000"/><rect x="1104" y="537" width="11" height="21" fill="#000"/><rect x="1105" y="538" width="9" height="19" fill="#00FF00"/><rect x="1125" y="540" width="1" height="27" fill="#000"/><rect x="1120" y="557" width="11" height="5" fill="#000"/><rect x="1121" y="558" width="9" height="3" fill="#00FF00"/><rect x="1141" y="527" width="1" height="46" fill="#000"/><rect x="1136" y="537" width="11" height="25" fill="#000"/><rect x="1137" y="538" width="9" height="23" fill="#FF0000"/><rect x="1157" y="435" width="1" height="125" fill="#000"/><rect x="1152" y="439" width="11" height="99" fill="#000"/><rect x="1153" y="440" width="9" height="97" fill="#FF0000"/><rect x="1173" y="437" width="1" height="30" fill="#000"/><rect x="1168" y="439" width="11" height="27" fill="#000"/><rect x="1169" y="440" width="9" height="25" fill="#00FF00"/><rect x="1189" y="450" width="1" height="6" fill="#000"/><rect x="1184" y="450" width="11" height="2" fill="#000"/><rect x="1205" y="434" width="1" height="28" fill="#000"/><rect x="1200" y="449" width="11" height="9" fill="#000"/><rect x="1201" y="450" width="9" height="7" fill="#00FF00"/><rect x="1221" y="456" width="1" height="35" fill="#000"/><rect x="1216" y="456" width="11" height="28" fill="#000"/><rect x="1217" y="457" width="9" height="26" fill="#00FF00"/><rect x="1237" y="446" width="1" height="39" fill="#000"/><rect x="1232" y="460" width="11" height="23" fill="#000"/><rect x="1233" y="461" width="9" height="21" fill="#FF0000"/><rect x="1253" y="381" width="1" height="96" fill="#000"/><rect x="1248" y="381" width="11" height="80" fill="#000"/><rect x="1249" y="382" width="9" height="78" fill="#FF0000"/><rect x="1269" y="379" width="1" height="20" fill="#000"/><rect x="1264" y="381" width="11" height="16" fill="#000"/><rect x="1265" y="382" width="9" height="14" fill="#00FF00"/><rect x="1285" y="390" width="1" height="14" fill="#000"/><rect x="1280" y="396" width="11" height="5" fill="#000"/><rect x="1281" y="397" width="9" height="3" fill="#00FF00"/><rect x="5" y="339" width="1639" height="2" fill="#FF0000"/><rect x="5" y="337" width="6" height="6" fill="#FF0000"/><rect x="7" y="339" width="2" height="2" fill="#FFFFFF"/><rect x="1638" y="337" width="6" height="6" fill="#FF0000"/><rect x="1640" y="339" width="2" height="2" fill="#FFFFFF"/><rect x="5" y="369" width="1639" height="2" fill="#FF0000"/><rect x="5" y="367" width="6" height="6" fill="#FF0000"/><rect x="7" y="369" width="2" height="2" fill="#FFFFFF"/><rect x="1638" y="367" width="6" height="6" fill="#FF0000"/><rect x="1640" y="369" width="2" height="2" fill="#FFFFFF"/><rect x="5" y="419" width="1639" height="2" fill="#FFA500"/><rect x="5" y="417" width="6" height="6" fill="#FFA500"/><rect x="7" y="419" width="2" height="2" fill="#FFFFFF"/><rect x="1638" y="417" width="6" height="6" fill="#FFA500"/><rect x="1640" y="419" width="2" height="2" fill="#FFFFFF"/><rect x="5" y="449" width="1639" height="2" fill="#0000FF"/><rect x="5" y="447" width="6" height="6" fill="#0000FF"/><rect x="7" y="449" width="2" height="2" fill="#FFFFFF"/><rect x="1638" y="447" width="6" height="6" fill="#0000FF"/><rect x="1640" y="449" width="2" height="2" fill="#FFFFFF"/><rect x="5" y="478" width="1639" height="2" fill="#0000FF"/><rect x="5" y="476" width="6" height="6" fill="#0000FF"/><rect x="7" y="478" width="2" height="2" fill="#FFFFFF"/><rect x="1638" y="476" width="6" height="6" fill="#0000FF"/><rect x="1640" y="478" width="2" height="2" fill="#FFFFFF"/></g>
<g clip-path="url(#cmacd)"><rect x="4" y="606" width="3" height="1" fill="#00FF00"/><rect x="36" y="606" width="3" height="2" fill="#00FF00"/><rect x="52" y="606" width="3" height="1" fill="#00FF00"/><rect x="68" y="606" width="3" height="2" fill="#00FF00"/><rect x="84" y="606" width="3" height="10" fill="#00FF00"/><rect x="100" y="606" width="3" height="16" fill="#00FF00"/><rect x="116" y="606" width="3" height="21" fill="#00FF00"/><rect x="132" y="606" width="3" height="26" fill="#00FF00"/><rect x="148" y="606" width="3" height="29" fill="#00FF00"/><rect x="164" y="606" width="3" height="29" fill="#00FF00"/><rect x="180" y="606" width="3" height="25" fill="#00FF00"/><rect x="196" y="606" width="3" height="28" fill="#00FF00"/><rect x="212" y="606" width="3" height="28" fill="#00FF00"/><rect x="228" y="606" width="3" height="22" fill="#00FF00"/><rect x="244" y="606" width="3" height="16" fill="#00FF00"/><rect x="260" y="606" width="3" height="12" fill="#00FF00"/><rect x="276" y="606" width="3" height="15" fill="#00FF00"/><rect x="292" y="606" width="3" height="19" fill="#00FF00"/><rect x="308" y="606" width="3" height="23" fill="#00FF00"/><rect x="324" y="606" width="3" height="25" fill="#00FF00"/><rect x="340" y="606" width="3" height="25" fill="#00FF00"/><rect x="356" y="606" width="3" height="29" fill="#00FF00"/><rect x="372" y="606" width="3" height="28" fill="#00FF00"/><rect x="388" y="606" width="3" height="38" fill="#00FF00"/><rect x="404" y="606" width="3" height="47" fill="#00FF00"/><rect x="420" y="606" width="3" height="54" fill="#00FF00"/><rect x="436" y="606" width="3" height="60" fill="#00FF00"/><rect x="452" y="606" width="3" height="64" fill="#00FF00"/><rect x="468" y="606" width="3" height="66" fill="#00FF00"/><rect x="484" y="606" width="3" height="68" fill="#00FF00"/><rect x="500" y="606" width="3" height="66" fill="#00FF00"/><rect x="516" y="606" width="3" height="63" fill="#00FF00"/><rect x="532" y="606" width="3" height="60" fill="#00FF00"/><rect x="548" y="606" width="3" height="60" fill="#00FF00"/><rect x="564" y="606" width="3" height="60" fill="#00FF00"/><rect x="580" y="606" width="3" height="60" fill="#00FF00"/><rect x="596" y="606" width="3" height="59" fill="#00FF00"/><rect x="612" y="606" width="3" height="57" fill="#00FF00"/><rect x="628" y="606" width="3" height="55" fill="#00FF00"/><rect x="644" y="606" width="3" height="54" fill="#00FF00"/><rect x="660" y="606" width="3" height="52" fill="#00FF00"/><rect x="676" y="606" width="3" height="49" fill="#00FF00"/><rect x="692" y="606" width="3" height="46" fill="#00FF00"/><rect x="708" y="606" width="3" height="44" fill="#00FF00"/><rect x="724" y="606" width="3" height="39" fill="#00FF00"/><rect x="740" y="606" width="3" height="36" fill="#00FF00"/><rect x="756" y="606" width="3" height="30" fill="#00FF00"/><rect x="772" y="606" width="3" height="18" fill="#00FF00"/><rect x="788" y="606" width="3" height="11" fill="#00FF00"/><rect x="804" y="606" width="3" height="7" fill="#00FF00"/><rect x="820" y="606" width="3" height="5" fill="#00FF00"/><rect x="836" y="606" width="3" height="9" fill="#00FF00"/><rect x="852" y="606" width="3" height="12" fill="#00FF00"/><rect x="868" y="606" width="3" height="15" fill="#00FF00"/><rect x="884" y="606" width="3" height="20" fill="#00FF00"/><rect x="900" y="606" width="3" height="23" fill="#00FF00"/><rect x="916" y="606" width="3" height="26" fill="#00FF00"/><rect x="932" y="606" width="3" height="28" fill="#00FF00"/><rect x="948" y="606" width="3" height="31" fill="#00FF00"/><rect x="964" y="606" width="3" height="41" fill="#00FF00"/><rect x="980" y="606" width="3" height="50" fill="#00FF00"/><rect x="996" y="606" width="3" height="57" fill="#00FF00"/><rect x="1012" y="606" width="3" height="60" fill="#00FF00"/><rect x="1028" y="606" width="3" height="68" fill="#00FF00"/><rect x="1044" y="606" width="3" height="78" fill="#00FF00"/><rect x="1060" y="606" width="3" height="91" fill="#00FF00"/><rect x="1076" y="606" width="3" height="97" fill="#00FF00"/><rect x="1092" y="606" width="3" height="101" fill="#00FF00"/><rect x="1108" y="606" width="3" height="105" fill="#00FF00"/><rect x="1124" y="606" width="3" height="107" fill="#00FF00"/><rect x="1140" y="606" width="3" height="105" fill="#00FF00"/><rect x="1156" y="606" width="3" height="91" fill="#00FF00"/><rect x="1172" y="606" width="3" height="82" fill="#00FF00"/><rect x="1188" y="606" width="3" height="72" fill="#00FF00"/><rect x="1204" y="606" width="3" height="64" fill="#00FF00"/><rect x="1220" y="606" width="3" height="60" fill="#00FF00"/><rect x="1236" y="606" width="3" height="54" fill="#00FF00"/><rect x="1252" y="606" width="3" height="39" fill="#00FF00"/><rect x="1268" y="606" width="3" height="29" fill="#00FF00"/><rect x="1284" y="606" width="3" height="21" fill="#00FF00"/><polyline points="5.5,620 21.5,617 37.5,614 53.5,611.6 69.5,609.6 85.5,608.9 101.5,609.9 117.5,612.6 133.5,613.9 149.5,617 165.5,619.6 181.5,622.6 197.5,626.6 213.5,629.6 229.5,629.6 245.5,629.6 261.5,629 277.5,628 293.5,627 309.5,626 325.5,626 341.5,626 357.5,626 373.5,626 389.5,629.6 405.5,632.2 421.5,637.7 437.5,641.2 453.5,646 469.5,651.3 485.5,655.5 501.5,659.3 517.5,663.3 533.5,666.3 549.5,667.1 565.5,667.6 581.5,667.6 597.5,667.3 613.5,666.3 629.5,665.3 645.5,664 661.5,662.5 677.5,661.3 693.5,660.3 709.5,658.3 725.5,656.3 741.5,653.3 757.5,650.2 773.5,646.2 789.5,641.2 805.5,636.2 821.5,631.2 837.5,627.1 853.5,623.1 869.5,621.3 885.5,619.1 901.5,618.8 917.5,619.1 933.5,620.9 949.5,624.1 965.5,628.3 981.5,632.6 997.5,637.6 1013.5,642.7 1029.5,648.4 1045.5,654.6 1061.5,661.8 1077.5,669.6 1093.5,676.5 1109.5,683.7 1125.5,690.1 1141.5,695.2 1157.5,698.4 1173.5,699.8 1189.5,699.5 1205.5,696.4 1221.5,692.3 1237.5,687.3 1253.5,680.1 1269.5,670.7 1285.5,662.8" fill="none" stroke="#FF0000" stroke-width="2" shape-rendering="crispEdges"/></g>
<g clip-path="url(#crsi)"><polyline points="5.5,771 21.5,772 37.5,774.7 53.5,770.6 69.5,778.2 85.5,784.7 101.5,785.7 117.5,786.7 133.5,786.7 149.5,786.7 165.5,781 181.5,773.5 197.5,783.7 213.5,780.7 229.5,770 245.5,770 261.5,770 277.5,779.7 293.5,782.7 309.5,782.7 325.5,782.3 341.5,780 357.5,784.7 373.5,778 389.5,789.7 405.5,790.7 421.5,790.7 437.5,791.7 453.5,791.7 469.5,791 485.5,790.7 501.5,786.2 517.5,786 533.5,784.9 549.5,788.7 565.5,789 581.5,789.7 597.5,788 613.5,788 629.5,788 645.5,788.8 661.5,788.7 677.5,784.2 693.5,784.7 709.5,784.7 725.5,778 741.5,778.7 757.5,773.2 773.5,759.9 789.5,766.9 805.5,768.5 821.5,769.6 837.5,779.7 853.5,780.2 869.5,782.7 885.5,784.7 901.5,785.2 917.5,785.7 933.5,786.4 949.5,788.2 965.5,798.8 981.5,799.3 997.5,799.8 1013.5,795.8 1029.5,800.8 1045.5,804.8 1061.5,806.8 1077.5,800.8 1093.5,800.8 1109.5,801.8 1125.5,801.7 1141.5,795.9 1157.5,776.2 1173.5,778.6 1189.5,777 1205.5,777 1221.5,780.7 1237.5,777.8 1253.5,765.9 1269.5,767.9 1285.5,767.9" fill="none" stroke="#1E90FF" stroke-width="2" shape-rendering="crispEdges"/><line x1="6" y1="742.5" x2="1644" y2="742.5" stroke="#000" stroke-width="1" stroke-dasharray="3,3"/><line x1="6" y1="772.5" x2="1644" y2="772.5" stroke="#000" stroke-width="1" stroke-dasharray="3,3"/><line x1="6" y1="808.5" x2="1644" y2="808.5" stroke="#000" stroke-width="1" stroke-dasharray="3,3"/></g>
<rect x="4" y="28" width="1641" height="1" fill="#000"/><rect x="4" y="597" width="1641" height="1" fill="#000"/><rect x="4" y="28" width="1" height="570" fill="#000"/><rect x="1644" y="28" width="1" height="570" fill="#000"/><rect x="4" y="599" width="1641" height="1" fill="#000"/><rect x="4" y="718" width="1641" height="1" fill="#000"/><rect x="4" y="599" width="1" height="120" fill="#000"/><rect x="1644" y="599" width="1" height="120" fill="#000"/><rect x="4" y="720" width="1641" height="1" fill="#000"/><rect x="4" y="824" width="1641" height="1" fill="#000"/><rect x="4" y="720" width="1" height="105" fill="#000"/><rect x="1644" y="720" width="1" height="105" fill="#000"/>
</g>
<g clip-path="url(#cmain)"><line x1="1228.5" y1="531" x2="1306" y2="464.5" stroke="#E8141C" stroke-width="2.7"/><polygon points="1317.5,453.5 1298,458.5 1310,472.5" fill="#E8141C"/><polygon points="1309.5,29 1319.5,29 1314.5,34.5" fill="#000"/></g>
<g><rect x="1645" y="33" width="2" height="1" fill="#000"/><text transform="translate(1650,36.6) scale(0.94,1)" font-family="Liberation Sans" font-size="9.6" fill="#000" stroke="#000" stroke-width="0.2" letter-spacing="0.26" xml:space="preserve">0.92275</text><rect x="1645" y="66" width="2" height="1" fill="#000"/><text transform="translate(1650,69.6) scale(0.94,1)" font-family="Liberation Sans" font-size="9.6" fill="#000" stroke="#000" stroke-width="0.2" letter-spacing="0.26" xml:space="preserve">0.92055</text><rect x="1645" y="99" width="2" height="1" fill="#000"/><text transform="translate(1650,102.6) scale(0.94,1)" font-family="Liberation Sans" font-size="9.6" fill="#000" stroke="#000" stroke-width="0.2" letter-spacing="0.26" xml:space="preserve">0.91835</text><rect x="1645" y="132" width="2" height="1" fill="#000"/><text transform="translate(1650,135.6) scale(0.94,1)" font-family="Liberation Sans" font-size="9.6" fill="#000" stroke="#000" stroke-width="0.2" letter-spacing="0.26" xml:space="preserve">0.91610</text><rect x="1645" y="165" width="2" height="1" fill="#000"/><text transform="translate(1650,168.6) scale(0.94,1)" font-family="Liberation Sans" font-size="9.6" fill="#000" stroke="#000" stroke-width="0.2" letter-spacing="0.26" xml:space="preserve">0.91390</text><rect x="1645" y="198" width="2" height="1" fill="#000"/><text transform="translate(1650,201.6) scale(0.94,1)" font-family="Liberation Sans" font-size="9.6" fill="#000" stroke="#000" stroke-width="0.2" letter-spacing="0.26" xml:space="preserve">0.91170</text><rect x="1645" y="231" width="2" height="1" fill="#000"/><text transform="translate(1650,234.6) scale(0.94,1)" font-family="Liberation Sans" font-size="9.6" fill="#000" stroke="#000" stroke-width="0.2" letter-spacing="0.26" xml:space="preserve">0.90950</text><rect x="1645" y="264" width="2" height="1" fill="#000"/><text transform="translate(1650,267.6) scale(0.94,1)" font-family="Liberation Sans" font-size="9.6" fill="#000" stroke="#000" stroke-width="0.2" letter-spacing="0.26" xml:space="preserve">0.90730</text><rect x="1645" y="297" width="2" height="1" fill="#000"/><text transform="translate(1650,300.6) scale(0.94,1)" font-family="Liberation Sans" font-size="9.6" fill="#000" stroke="#000" stroke-width="0.2" letter-spacing="0.26" xml:space="preserve">0.90505</text><rect x="1645" y="330" width="2" height="1" fill="#000"/><text transform="translate(1650,333.6) scale(0.94,1)" font-family="Liberation Sans" font-size="9.6" fill="#000" stroke="#000" stroke-width="0.2" letter-spacing="0.26" xml:space="preserve">0.90285</text><rect x="1645" y="363" width="2" height="1" fill="#000"/><text transform="translate(1650,366.6) scale(0.94,1)" font-family="Liberation Sans" font-size="9.6" fill="#000" stroke="#000" stroke-width="0.2" letter-spacing="0.26" xml:space="preserve">0.90065</text><rect x="1645" y="396" width="2" height="1" fill="#000"/><text transform="translate(1650,399.6) scale(0.94,1)" font-family="Liberation Sans" font-size="9.6" fill="#000" stroke="#000" stroke-width="0.2" letter-spacing="0.26" xml:space="preserve">0.89845</text><rect x="1645" y="429" width="2" height="1" fill="#000"/><text transform="translate(1650,432.6) scale(0.94,1)" font-family="Liberation Sans" font-size="9.6" fill="#000" stroke="#000" stroke-width="0.2" letter-spacing="0.26" xml:space="preserve">0.89620</text><rect x="1645" y="462" width="2" height="1" fill="#000"/><text transform="translate(1650,465.6) scale(0.94,1)" font-family="Liberation Sans" font-size="9.6" fill="#000" stroke="#000" stroke-width="0.2" letter-spacing="0.26" xml:space="preserve">0.89400</text><rect x="1645" y="495" width="2" height="1" fill="#000"/><text transform="translate(1650,498.6) scale(0.94,1)" font-family="Liberation Sans" font-size="9.6" fill="#000" stroke="#000" stroke-width="0.2" letter-spacing="0.26" xml:space="preserve">0.89180</text><rect x="1645" y="528" width="2" height="1" fill="#000"/><text transform="translate(1650,531.6) scale(0.94,1)" font-family="Liberation Sans" font-size="9.6" fill="#000" stroke="#000" stroke-width="0.2" letter-spacing="0.26" xml:space="preserve">0.88960</text><rect x="1645" y="561" width="2" height="1" fill="#000"/><text transform="translate(1650,564.6) scale(0.94,1)" font-family="Liberation Sans" font-size="9.6" fill="#000" stroke="#000" stroke-width="0.2" letter-spacing="0.26" xml:space="preserve">0.88735</text><rect x="1645" y="594" width="2" height="1" fill="#000"/><text transform="translate(1650,597.6) scale(0.94,1)" font-family="Liberation Sans" font-size="9.6" fill="#000" stroke="#000" stroke-width="0.2" letter-spacing="0.26" xml:space="preserve">0.88515</text><rect x="1646" y="334" width="41" height="11" fill="#FF0000"/><text transform="translate(1650,343) scale(0.94,1)" font-family="Liberation Sans" font-size="9.6" fill="#FFF" stroke="#FFF" stroke-width="0.05" letter-spacing="0.26" xml:space="preserve">0.90219</text><rect x="1646" y="364" width="41" height="11" fill="#FF0000"/><text transform="translate(1650,373) scale(0.94,1)" font-family="Liberation Sans" font-size="9.6" fill="#FFF" stroke="#FFF" stroke-width="0.05" letter-spacing="0.26" xml:space="preserve">0.90019</text><rect x="1646" y="395" width="41" height="11" fill="#000000"/><text transform="translate(1650,404) scale(0.94,1)" font-family="Liberation Sans" font-size="9.6" fill="#FFF" stroke="#FFF" stroke-width="0.05" letter-spacing="0.26" xml:space="preserve">0.89819</text><rect x="1646" y="414" width="41" height="11" fill="#FFA500"/><text transform="translate(1650,423) scale(0.94,1)" font-family="Liberation Sans" font-size="9.6" fill="#FFF" stroke="#FFF" stroke-width="0.05" letter-spacing="0.26" xml:space="preserve">0.89684</text><rect x="1646" y="444" width="41" height="11" fill="#0000FF"/><text transform="translate(1650,453) scale(0.94,1)" font-family="Liberation Sans" font-size="9.6" fill="#FFF" stroke="#FFF" stroke-width="0.05" letter-spacing="0.26" xml:space="preserve">0.89483</text><rect x="1646" y="473" width="41" height="11" fill="#0000FF"/><text transform="translate(1650,482) scale(0.94,1)" font-family="Liberation Sans" font-size="9.6" fill="#FFF" stroke="#FFF" stroke-width="0.05" letter-spacing="0.26" xml:space="preserve">0.89289</text><rect x="1645" y="601" width="1" height="1" fill="#000"/><rect x="1645" y="606" width="1" height="1" fill="#000"/><text transform="translate(1648,610) scale(0.94,1)" font-family="Liberation Sans" font-size="9.6" fill="#000" stroke="#000" stroke-width="0.2" letter-spacing="0.26" xml:space="preserve">0.000241</text><rect x="1645" y="717" width="1" height="1" fill="#000"/><text transform="translate(1648,714.5) scale(0.94,1)" font-family="Liberation Sans" font-size="9.6" fill="#000" stroke="#000" stroke-width="0.2" letter-spacing="0.26" xml:space="preserve">-0.005115</text><rect x="1645" y="722" width="1" height="1" fill="#000"/><text transform="translate(1648,731) scale(0.94,1)" font-family="Liberation Sans" font-size="9.6" fill="#000" stroke="#000" stroke-width="0.2" letter-spacing="0.26" xml:space="preserve">100</text><text transform="translate(1647,745.5) scale(0.94,1)" font-family="Liberation Sans" font-size="9.6" fill="#000" stroke="#000" stroke-width="0.2" letter-spacing="0.26" xml:space="preserve">80</text><text transform="translate(1647,775.5) scale(0.94,1)" font-family="Liberation Sans" font-size="9.6" fill="#000" stroke="#000" stroke-width="0.2" letter-spacing="0.26" xml:space="preserve">50</text><text transform="translate(1648,811.5) scale(0.94,1)" font-family="Liberation Sans" font-size="9.6" fill="#000" stroke="#000" stroke-width="0.2" letter-spacing="0.26" xml:space="preserve">15</text><text transform="translate(1648,821) scale(0.94,1)" font-family="Liberation Sans" font-size="9.6" fill="#000" stroke="#000" stroke-width="0.2" letter-spacing="0.26" xml:space="preserve">0</text><rect x="5" y="825" width="1" height="3" fill="#000"/><text transform="translate(4.5,837) scale(0.94,1)" font-family="Liberation Sans" font-size="9.6" fill="#000" stroke="#000" stroke-width="0.2" letter-spacing="0.26" xml:space="preserve">29 Mar 2023</text><rect x="69" y="825" width="1" height="3" fill="#000"/><text transform="translate(68.5,837) scale(0.94,1)" font-family="Liberation Sans" font-size="9.6" fill="#000" stroke="#000" stroke-width="0.2" letter-spacing="0.26" xml:space="preserve">30 Mar 04:00</text><rect x="133" y="825" width="1" height="3" fill="#000"/><text transform="translate(132.5,837) scale(0.94,1)" font-family="Liberation Sans" font-size="9.6" fill="#000" stroke="#000" stroke-width="0.2" letter-spacing="0.26" xml:space="preserve">30 Mar 20:00</text><rect x="197" y="825" width="1" height="3" fill="#000"/><text transform="translate(196.5,837) scale(0.94,1)" font-family="Liberation Sans" font-size="9.6" fill="#000" stroke="#000" stroke-width="0.2" letter-spacing="0.26" xml:space="preserve">31 Mar 12:00</text><rect x="261" y="825" width="1" height="3" fill="#000"/><text transform="translate(260.5,837) scale(0.94,1)" font-family="Liberation Sans" font-size="9.6" fill="#000" stroke="#000" stroke-width="0.2" letter-spacing="0.26" xml:space="preserve">3 Apr 04:00</text><rect x="325" y="825" width="1" height="3" fill="#000"/><text transform="translate(324.5,837) scale(0.94,1)" font-family="Liberation Sans" font-size="9.6" fill="#000" stroke="#000" stroke-width="0.2" letter-spacing="0.26" xml:space="preserve">3 Apr 20:00</text><rect x="389" y="825" width="1" height="3" fill="#000"/><text transform="translate(388.5,837) scale(0.94,1)" font-family="Liberation Sans" font-size="9.6" fill="#000" stroke="#000" stroke-width="0.2" letter-spacing="0.26" xml:space="preserve">4 Apr 12:00</text><rect x="453" y="825" width="1" height="3" fill="#000"/><text transform="translate(452.5,837) scale(0.94,1)" font-family="Liberation Sans" font-size="9.6" fill="#000" stroke="#000" stroke-width="0.2" letter-spacing="0.26" xml:space="preserve">5 Apr 04:00</text><rect x="517" y="825" width="1" height="3" fill="#000"/><text transform="translate(516.5,837) scale(0.94,1)" font-family="Liberation Sans" font-size="9.6" fill="#000" stroke="#000" stroke-width="0.2" letter-spacing="0.26" xml:space="preserve">5 Apr 20:00</text><rect x="581" y="825" width="1" height="3" fill="#000"/><text transform="translate(580.5,837) scale(0.94,1)" font-family="Liberation Sans" font-size="9.6" fill="#000" stroke="#000" stroke-width="0.2" letter-spacing="0.26" xml:space="preserve">6 Apr 12:00</text><rect x="645" y="825" width="1" height="3" fill="#000"/><text transform="translate(644.5,837) scale(0.94,1)" font-family="Liberation Sans" font-size="9.6" fill="#000" stroke="#000" stroke-width="0.2" letter-spacing="0.26" xml:space="preserve">7 Apr 04:00</text><rect x="709" y="825" width="1" height="3" fill="#000"/><text transform="translate(708.5,837) scale(0.94,1)" font-family="Liberation Sans" font-size="9.6" fill="#000" stroke="#000" stroke-width="0.2" letter-spacing="0.26" xml:space="preserve">9 Apr 23:00</text><rect x="773" y="825" width="1" height="3" fill="#000"/><text transform="translate(772.5,837) scale(0.94,1)" font-family="Liberation Sans" font-size="9.6" fill="#000" stroke="#000" stroke-width="0.2" letter-spacing="0.26" xml:space="preserve">10 Apr 12:00</text><rect x="837" y="825" width="1" height="3" fill="#000"/><text transform="translate(836.5,837) scale(0.94,1)" font-family="Liberation Sans" font-size="9.6" fill="#000" stroke="#000" stroke-width="0.2" letter-spacing="0.26" xml:space="preserve">11 Apr 04:00</text><rect x="901" y="825" width="1" height="3" fill="#000"/><text transform="translate(900.5,837) scale(0.94,1)" font-family="Liberation Sans" font-size="9.6" fill="#000" stroke="#000" stroke-width="0.2" letter-spacing="0.26" xml:space="preserve">11 Apr 20:00</text><rect x="965" y="825" width="1" height="3" fill="#000"/><text transform="translate(964.5,837) scale(0.94,1)" font-family="Liberation Sans" font-size="9.6" fill="#000" stroke="#000" stroke-width="0.2" letter-spacing="0.26" xml:space="preserve">12 Apr 12:00</text><rect x="1029" y="825" width="1" height="3" fill="#000"/><text transform="translate(1028.5,837) scale(0.94,1)" font-family="Liberation Sans" font-size="9.6" fill="#000" stroke="#000" stroke-width="0.2" letter-spacing="0.26" xml:space="preserve">13 Apr 04:00</text><rect x="1093" y="825" width="1" height="3" fill="#000"/><text transform="translate(1092.5,837) scale(0.94,1)" font-family="Liberation Sans" font-size="9.6" fill="#000" stroke="#000" stroke-width="0.2" letter-spacing="0.26" xml:space="preserve">13 Apr 20:00</text><rect x="1157" y="825" width="1" height="3" fill="#000"/><text transform="translate(1156.5,837) scale(0.94,1)" font-family="Liberation Sans" font-size="9.6" fill="#000" stroke="#000" stroke-width="0.2" letter-spacing="0.26" xml:space="preserve">14 Apr 12:00</text><rect x="1221" y="825" width="1" height="3" fill="#000"/><text transform="translate(1220.5,837) scale(0.94,1)" font-family="Liberation Sans" font-size="9.6" fill="#000" stroke="#000" stroke-width="0.2" letter-spacing="0.26" xml:space="preserve">17 Apr 04:00</text><rect x="1285" y="825" width="1" height="3" fill="#000"/><text transform="translate(1284.5,837) scale(0.94,1)" font-family="Liberation Sans" font-size="9.6" fill="#000" stroke="#000" stroke-width="0.2" letter-spacing="0.26" xml:space="preserve">17 Apr 20:00</text></g>
<g><polygon points="8,35 15,35 11.5,39" fill="#000"/><text transform="translate(21,40) scale(0.92,1)" font-family="Liberation Sans" font-size="9.6" fill="#000" stroke="#000" stroke-width="0.2" letter-spacing="0.3" xml:space="preserve">USDCHF-,H4  0.89846 0.89887 0.89799 0.89819</text><text transform="translate(9.5,612) scale(0.92,1)" font-family="Liberation Sans" font-size="9.6" fill="#000" stroke="#000" stroke-width="0.2" letter-spacing="0.27" xml:space="preserve">MACD(12,26,9) -0.000930 -0.002569</text><text transform="translate(9,733) scale(0.92,1)" font-family="Liberation Sans" font-size="9.6" fill="#000" stroke="#000" stroke-width="0.2" letter-spacing="0.3" xml:space="preserve">RSI(14) 54.0050</text></g>
</svg>
</body></html>
